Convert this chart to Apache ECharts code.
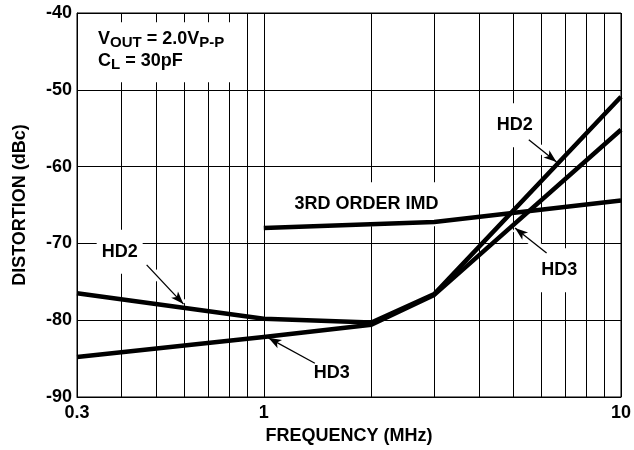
<!DOCTYPE html>
<html>
<head>
<meta charset="utf-8">
<script src="https://cdn.jsdelivr.net/npm/echarts@6/dist/echarts.min.js"></script>
<style>
html, body { margin: 0; padding: 0; background: #fff; }
#main { width: 634px; height: 450px; }
</style>
</head>
<body>
<div id="main"></div>
<script>
// frequency (MHz) grid + labels
var freqLabels = [0.3, 1, 10];
var freqGrid = [0.3, 0.4, 0.5, 0.6, 0.7, 0.8, 0.9, 1, 2, 3, 4, 5, 6, 7, 8, 9, 10];

// curves [MHz, dBc]
var hd2 = [[0.3, -76.5], [1, -79.8], [2, -80.3], [3, -76.6], [10, -50.9]];
var hd3 = [[0.3, -84.8], [1, -82.2], [2, -80.6], [3, -76.7], [10, -55.2]];
var imd = [[1, -68.0], [3, -67.2], [10, -64.4]];

// annotations [text, MHz, dBc]
var notes = [
    ['3RD ORDER IMD', 1.94, -64.9],
    ['HD2', 0.395, -71.1],
    ['HD3', 1.55, -86.9],
    ['HD2', 5.04, -54.6],
    ['HD3', 6.72, -73.5]
];
// arrows [[from], [to]]
var arrows = [
    [[0.47, -72.8], [0.596, -77.9]],
    [[1.39, -85.6], [1.03, -82.3]],
    [[5.52, -56.5], [6.6, -59.4]],
    [[6.19, -71.25], [5.05, -68.0]]
];
// left edge / middle of the test-condition box
var condPos = [0.306, -45.1];

var font = 'Liberation Sans, Arial, sans-serif';
var chart = echarts.init(document.getElementById('main'));

function curve(name, data) {
    return {
        name: name,
        type: 'line',
        data: data,
        z: 3,
        symbol: 'none',
        lineStyle: { color: '#000', width: 4.5, join: 'round' },
        silent: true
    };
}

var pointData = notes.map(function (n) {
    return {
        coord: [n[1], n[2]],
        label: { formatter: n[0], padding: [11, 5] }
    };
});
pointData.push({
    coord: condPos,
    label: {
        formatter: 'V{s|OUT} = 2.0V{s|P-P}\nC{s|L} = 30pF',
        align: 'left',
        padding: [6, 10, 10, 18]
    }
});

var arrowData = arrows.map(function (a) {
    return [{ coord: a[0] }, { coord: a[1] }];
});

var option = {
    animation: false,
    grid: { left: 77, right: 8, top: 13, bottom: 53, show: true, borderColor: '#000', borderWidth: 1 },
    xAxis: {
        type: 'log',
        logBase: 10,
        min: 0.3,
        max: 10,
        name: 'FREQUENCY (MHz)',
        nameLocation: 'middle',
        nameGap: 30,
        nameTextStyle: { fontFamily: font, fontWeight: 'bold', fontSize: 18, color: '#000' },
        axisLine: { show: true, lineStyle: { color: '#000', width: 1 } },
        axisTick: { show: false, customValues: freqGrid },
        axisLabel: {
            customValues: freqLabels,
            formatter: function (v) { return String(v); },
            fontFamily: font, fontWeight: 'bold', fontSize: 18, color: '#000', margin: 7
        },
        splitLine: { show: true, lineStyle: { color: '#000', width: 1 } }
    },
    yAxis: {
        type: 'value',
        min: -90,
        max: -40,
        interval: 10,
        name: 'DISTORTION (dBc)',
        nameLocation: 'middle',
        nameGap: 48,
        nameTextStyle: { fontFamily: font, fontWeight: 'bold', fontSize: 18, color: '#000' },
        axisLine: { show: true, lineStyle: { color: '#000', width: 1 } },
        axisTick: { show: false },
        axisLabel: { fontFamily: font, fontWeight: 'bold', fontSize: 18, color: '#000', margin: 5 },
        splitLine: { show: true, lineStyle: { color: '#000', width: 1 } }
    },
    series: [
        {
            name: 'notes',
            type: 'line',
            data: [],
            z: 1,
            silent: true,
            markLine: {
                z: 1,
                silent: true,
                symbol: ['none', 'none'],
                label: { show: false },
                lineStyle: { color: '#fff', width: 8, type: 'solid' },
                data: arrowData
            },
            markPoint: {
                z: 1,
                silent: true,
                symbol: 'rect',
                symbolSize: 1,
                itemStyle: { color: 'rgba(0,0,0,0)' },
                label: {
                    show: true,
                    position: 'inside',
                    backgroundColor: '#fff',
                    color: '#000',
                    fontFamily: font,
                    fontWeight: 'bold',
                    fontSize: 18,
                    lineHeight: 22,
                    rich: {
                        s: {
                            fontFamily: font, fontWeight: 'bold', fontSize: 15,
                            lineHeight: 14, verticalAlign: 'bottom'
                        }
                    }
                },
                data: pointData
            }
        },
        curve('HD2', hd2),
        curve('HD3', hd3),
        curve('3RD ORDER IMD', imd),
        {
            name: 'arrows',
            type: 'line',
            data: [],
            z: 4,
            silent: true,
            markLine: {
                z: 5,
                silent: true,
                symbol: ['none', 'arrow'],
                symbolSize: [7, 13],
                label: { show: false },
                lineStyle: { color: '#000', width: 1.3, type: 'solid' },
                data: arrowData
            }
        }
    ]
};
chart.setOption(option);
</script>
</body>
</html>
